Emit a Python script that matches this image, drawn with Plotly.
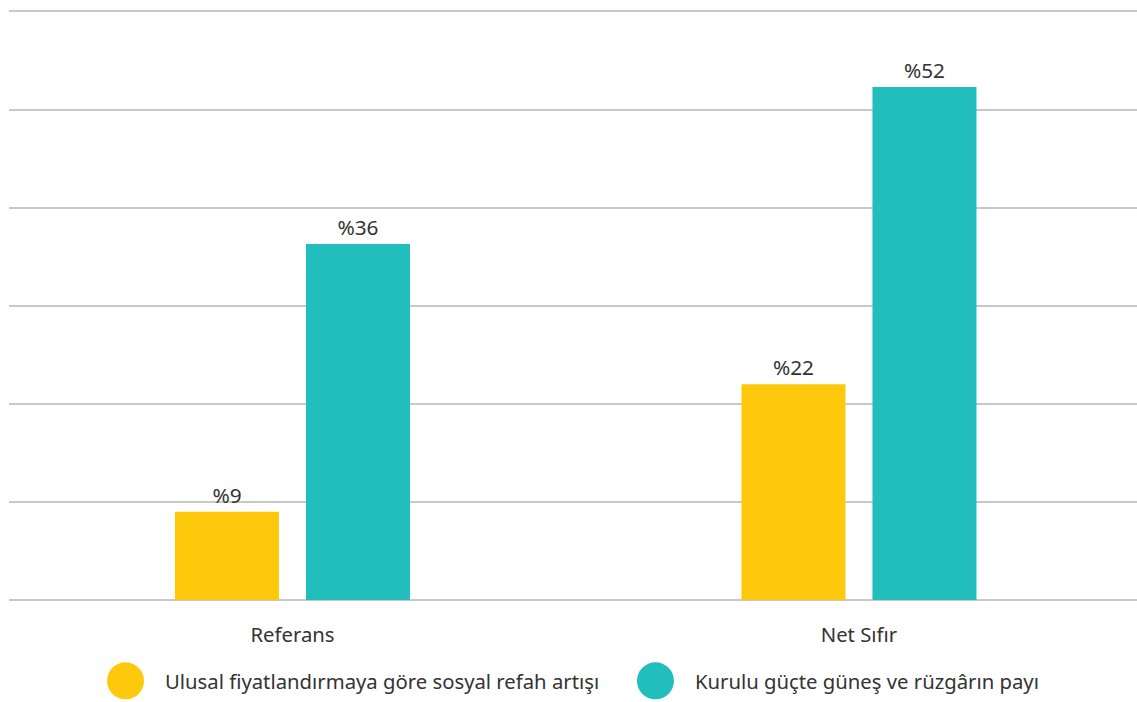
import plotly.graph_objects as go

categories = ["Referans", "Net Sıfır"]
series_names = ["Ulusal fiyatlandırmaya göre sosyal refah artışı", "Kurulu güçte güneş ve rüzgârın payı"]
welfare = [9, 22]
share = [36.3, 52.3]
colors = ["#FEC90D", "#22BDBD"]

FONT = "'Noto Sans', 'Open Sans', sans-serif"
TXT = "#333333"

fig = go.Figure()
for name, vals, col in zip(series_names, [welfare, share], colors):
    fig.add_trace(go.Bar(
        x=categories, y=vals, name=name, marker_color=col, marker_line_width=0,
        text=[f"%{round(v)}" for v in vals], textposition="outside",
        textfont=dict(size=20.8, color=TXT, family=FONT), cliponaxis=False,
        showlegend=False, hoverinfo="skip",
    ))

# manual legend (large circle markers)
legend_x = [0.0869, 0.5567]
for i, (name, col) in enumerate(zip(series_names, colors)):
    fig.add_shape(type="circle", xref="paper", yref="paper",
                  xsizemode="pixel", ysizemode="pixel",
                  xanchor=legend_x[i], yanchor=-0.137,
                  x0=0, x1=37, y0=-18.5, y1=18.5,
                  fillcolor=col, line_width=0)
    fig.add_annotation(xref="paper", yref="paper", x=legend_x[i], y=-0.137,
                       xshift=56, text=name, showarrow=False, xanchor="left",
                       yanchor="middle", font=dict(size=20.3, color=TXT, family=FONT))

fig.update_layout(
    width=1137, height=702,
    margin=dict(l=9, r=0, t=10, b=102),
    paper_bgcolor="white", plot_bgcolor="white",
    barmode="group", bargap=0.5375, bargroupgap=0.206,
    font=dict(family=FONT, color=TXT),
    xaxis=dict(range=[-0.5004, 1.4908], showgrid=False, showline=False, ticks="",
               ticklabelstandoff=21, fixedrange=True,
               tickfont=dict(size=20.3, color=TXT, family=FONT)),
    yaxis=dict(range=[0, 60.15], tickvals=[0, 10, 20, 30, 40, 50, 60],
               showticklabels=False, showgrid=True,
               gridcolor="#C8C8C8", gridwidth=1.5, zeroline=True,
               zerolinecolor="#C8C8C8", zerolinewidth=1.5, fixedrange=True),
)

fig.write_html("out.html", config={"displayModeBar": False},
               post_script="document.body.style.margin='0';")
